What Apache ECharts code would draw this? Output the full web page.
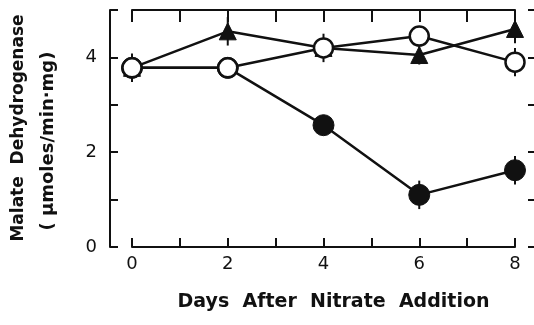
<!DOCTYPE html>
<html>
<head>
<meta charset="utf-8">
<script src="https://cdn.jsdelivr.net/npm/echarts@6/dist/echarts.min.js"></script>
<style>
  html, body { margin: 0; padding: 0; background: #fff; }
  #chart { width: 534px; height: 325px; }
</style>
</head>
<body>
<div id="chart"></div>
<script>
// days after nitrate addition
const days = [0, 2, 4, 6, 8];
// open circles
const openCircle = [3.78, 3.78, 4.2, 4.45, 3.9];
const openErr = [0.3, 0, 0.3, 0, 0.3];
// filled triangles
const triangle = [3.78, 4.55, 4.2, 4.05, 4.6];
const triErr = [0, 0.3, 0, 0.2, 0.3];
// filled circles
const filledCircle = [3.78, 3.78, 2.57, 1.1, 1.62];
const filledErr = [0, 0, 0, 0.3, 0.3];

const FONT = '"DejaVu Sans", sans-serif';
const chart = echarts.init(document.getElementById('chart'), null, { renderer: 'canvas' });

function pairs(ys) {
  return days.map((d, i) => [d, ys[i]]);
}
function errData(ys, errs) {
  let out = [];
  for (let i = 0; i < days.length; i++) {
    if (errs[i] > 0) out.push([days[i], ys[i] - errs[i], ys[i] + errs[i]]);
  }
  return out;
}
// error bar series
function errSeries(ys, errs) {
  return {
    type: 'custom',
    z: 1,
    silent: true,
    data: errData(ys, errs),
    renderItem: (params, api) => {
      const lo = api.coord([api.value(0), api.value(1)]);
      const hi = api.coord([api.value(0), api.value(2)]);
      return {
        type: 'line',
        shape: { x1: lo[0], y1: lo[1], x2: hi[0], y2: hi[1] },
        style: { stroke: '#111', lineWidth: 2 }
      };
    }
  };
}

const lineStyle = { color: '#111', width: 2 };

const option = {
  backgroundColor: '#fff',
  animation: false,
  grid: { left: 132, right: 19, top: 10, bottom: 78 },
  xAxis: [
    {
      type: 'value', min: 0, max: 8, interval: 1, position: 'bottom',
      axisLine: { show: true, onZero: false, lineStyle: lineStyle },
      axisTick: { show: true, inside: true, length: 9, lineStyle: lineStyle },
      axisLabel: {
        color: '#111', fontFamily: FONT, fontSize: 18, margin: 8,
        formatter: v => (v % 2 === 0 ? String(v) : '')
      },
      splitLine: { show: false },
      name: 'Days  After  Nitrate  Addition',
      nameLocation: 'middle', nameGap: 46,
      nameTextStyle: {
        color: '#111', fontFamily: FONT, fontSize: 19, fontWeight: 'bold',
        padding: [0, 0, 0, 20]
      }
    },
    {
      type: 'value', min: 0, max: 8, interval: 1, position: 'top',
      axisLine: { show: true, onZero: false, lineStyle: lineStyle },
      axisTick: { show: true, inside: true, length: 12, lineStyle: lineStyle },
      axisLabel: { show: false },
      splitLine: { show: false }
    }
  ],
  yAxis: [
    {
      type: 'value', min: 0, max: 5, interval: 1, position: 'left', offset: 22,
      axisLine: { show: true, onZero: false, lineStyle: lineStyle },
      axisTick: { show: true, inside: true, length: 8, lineStyle: lineStyle },
      axisLabel: {
        color: '#111', fontFamily: FONT, fontSize: 18, margin: 13,
        formatter: v => (v % 2 === 0 && v < 5 ? String(v) : '')
      },
      splitLine: { show: false }
    },
    {
      type: 'value', min: 0, max: 5, interval: 1, position: 'right', offset: 13,
      axisLine: { show: false, onZero: false },
      axisTick: { show: true, inside: false, length: 6, lineStyle: lineStyle },
      axisLabel: { show: false },
      splitLine: { show: false }
    }
  ],
  graphic: [
    {
      type: 'text', x: 19, y: 128, rotation: Math.PI / 2,
      style: {
        text: 'Malate  Dehydrogenase', fill: '#111', font: 'bold 17px ' + FONT,
        align: 'center', verticalAlign: 'middle'
      }
    },
    {
      type: 'text', x: 48, y: 141, rotation: Math.PI / 2,
      style: {
        text: '( \u03bcmoles/min\u00b7mg)', fill: '#111', font: 'bold 18px ' + FONT,
        align: 'center', verticalAlign: 'middle'
      }
    }
  ],
  series: [
    errSeries(openCircle, openErr),
    errSeries(triangle, triErr),
    errSeries(filledCircle, filledErr),
    {
      type: 'line', data: pairs(filledCircle), z: 2,
      symbol: 'circle', symbolSize: 21,
      lineStyle: { color: '#111', width: 2.5 },
      itemStyle: { color: '#111', borderColor: '#111', borderWidth: 1 }
    },
    {
      type: 'line', data: pairs(triangle), z: 3,
      symbol: 'triangle', symbolSize: 17,
      lineStyle: { color: '#111', width: 2.5 },
      itemStyle: { color: '#111', borderColor: '#111', borderWidth: 1 }
    },
    {
      type: 'line', data: pairs(openCircle), z: 4,
      symbol: 'circle', symbolSize: 19,
      lineStyle: { color: '#111', width: 2.5 },
      itemStyle: { color: '#fff', borderColor: '#111', borderWidth: 2.5 }
    }
  ]
};
chart.setOption(option);
</script>
</body>
</html>
